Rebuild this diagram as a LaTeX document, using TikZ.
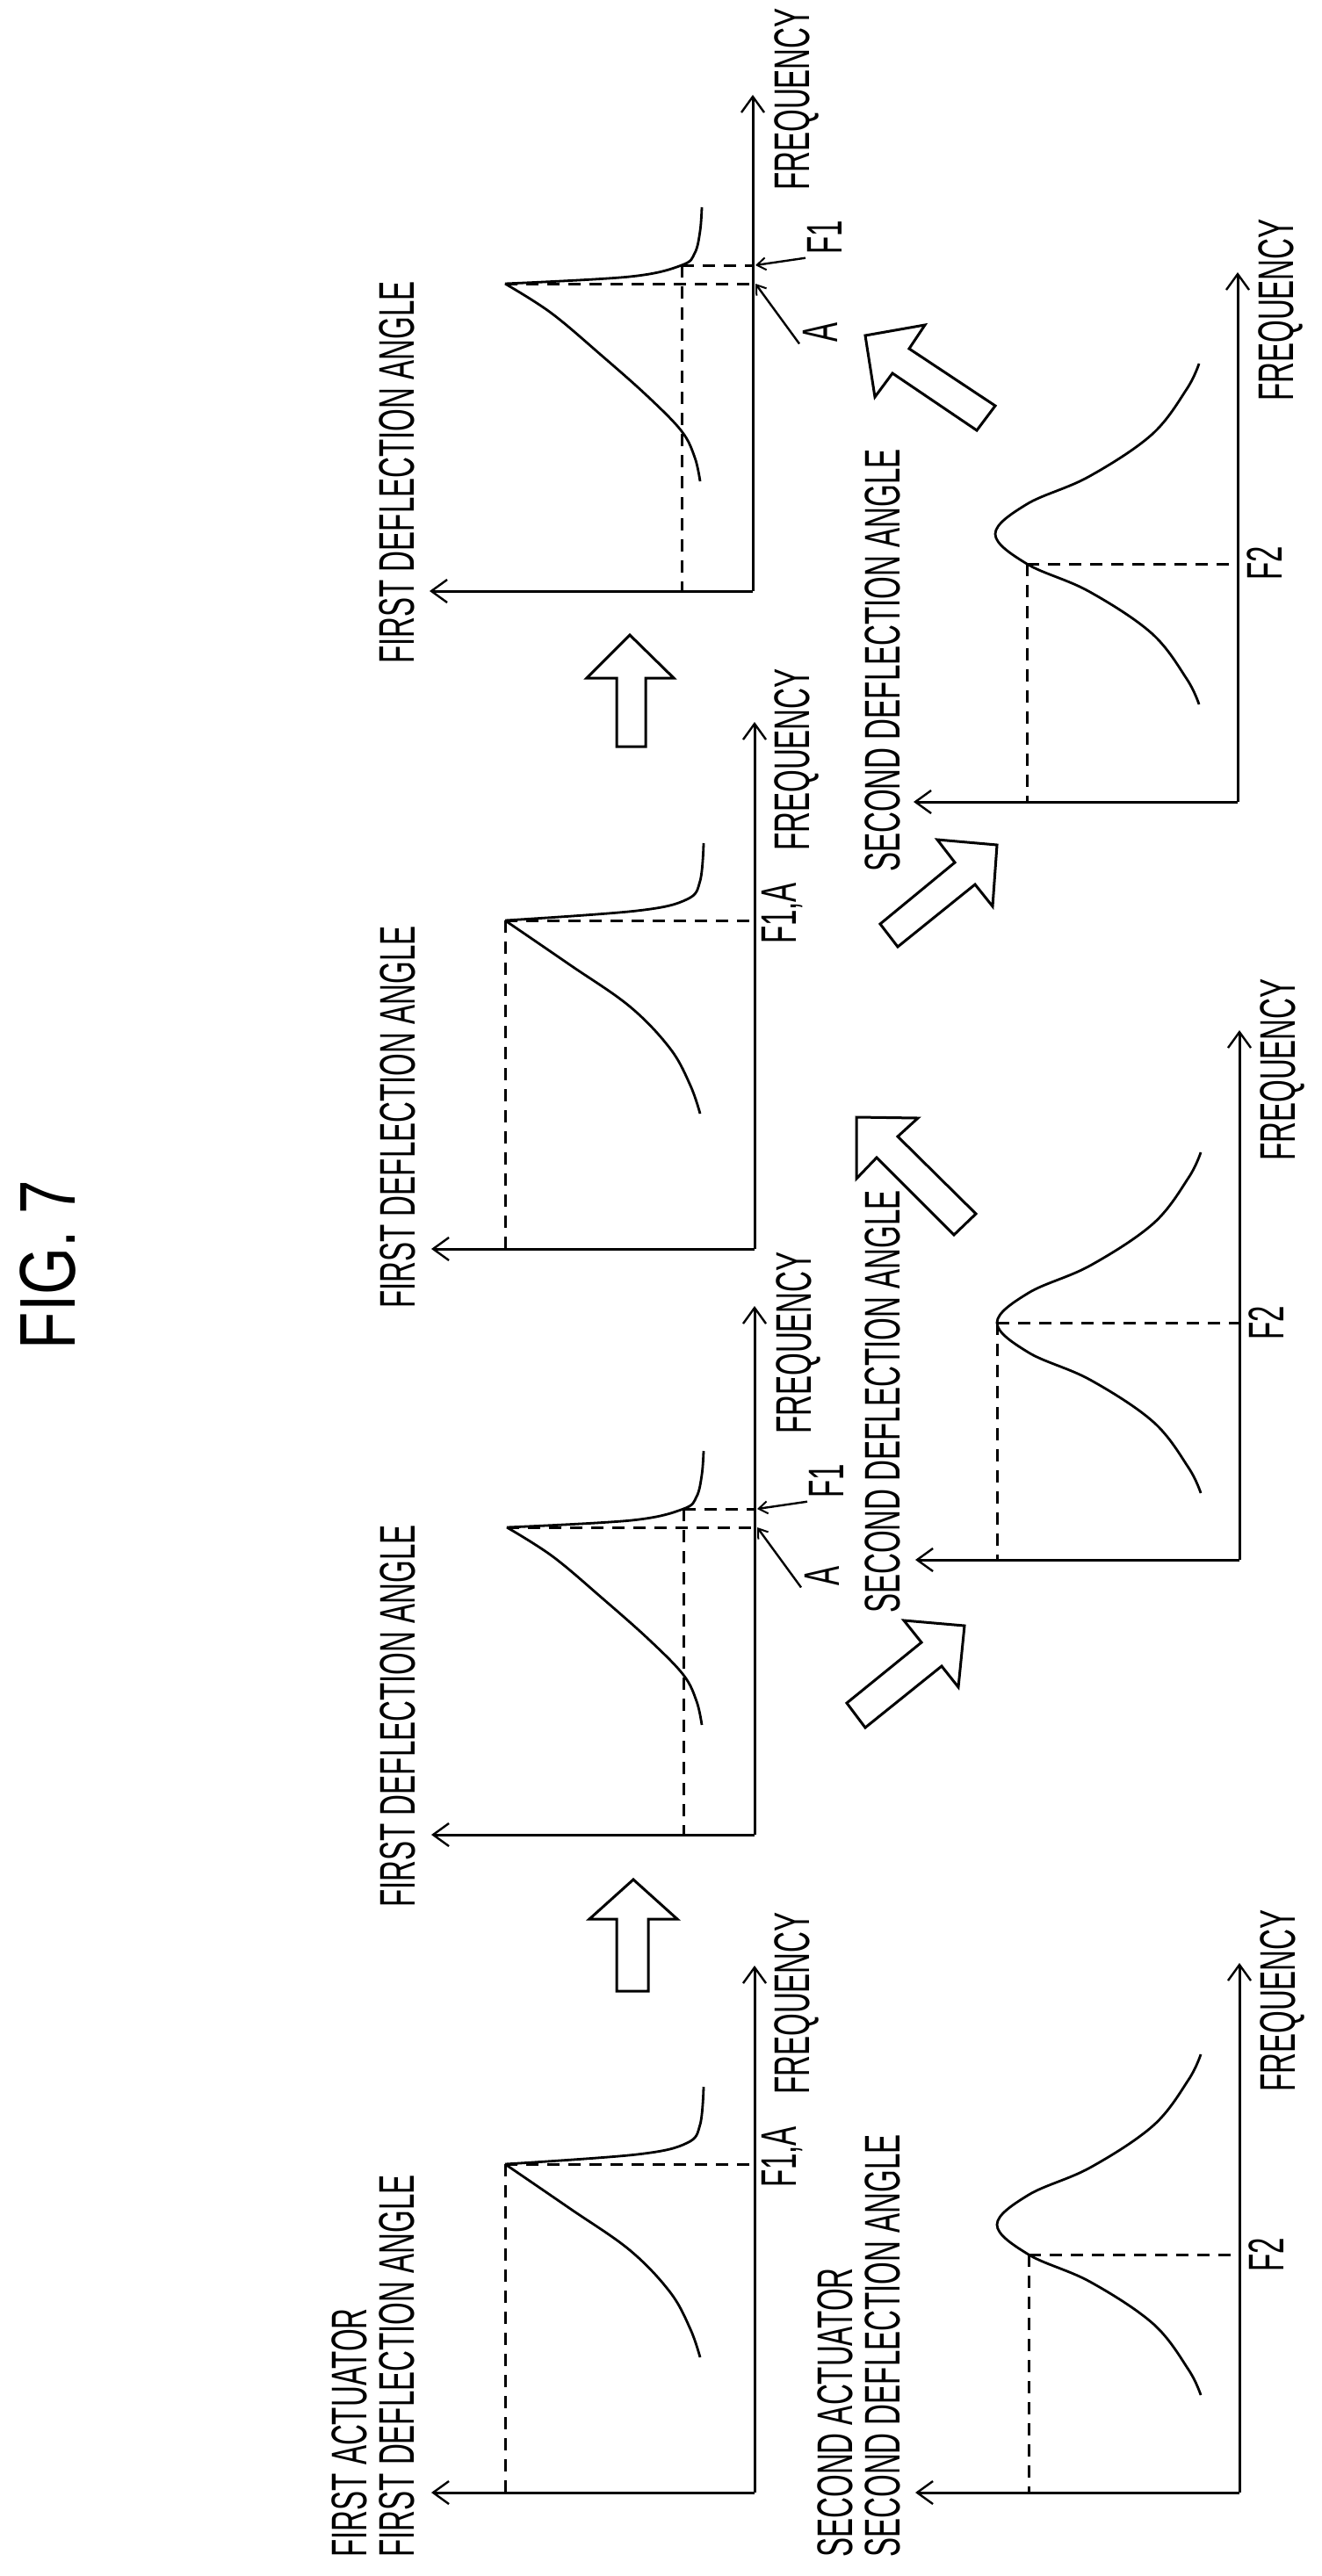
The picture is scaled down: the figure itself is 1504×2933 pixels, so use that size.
\documentclass[tikz,border=0pt]{standalone}
\usepackage{fontspec}
\usepackage{graphicx}
\setmainfont{Liberation Sans}
\usetikzlibrary{arrows.meta}
\newcommand{\lbfont}{\fontsize{28.5}{30}\selectfont}
\newcommand{\nt}[1]{\scalebox{0.58}[1]{#1}}
\tikzset{
  ax/.style={line width=1.5pt,-{Straight Barb[length=9pt,width=13pt,line width=1.2pt]}},
  dsh/.style={line width=1.5pt,dash pattern=on 7pt off 5pt},
  crv/.style={line width=1.4pt},
  blk/.style={line width=1.5pt,line join=miter},
  lbl/.style={rotate=90,inner sep=0pt,font=\lbfont},
  ptr/.style={line width=1.2pt,-{Straight Barb[length=5pt,width=7pt,line width=1pt]}}
}
% first actuator, F1 = A
\newcommand{\graphA}[1]{%
  \draw[ax] (0,0) -- (0,-600);
  \draw[ax] (0,0) -- (-368,0);
  \draw[crv] plot[smooth,tension=0.6] coordinates {(-62,-154)(-73,-186)(-96,-228)(-142,-276)(-211,-324)(-284,-374)};
  \draw[crv] plot[smooth,tension=0.6] coordinates {(-284,-374)(-134,-385)(-77,-398)(-62,-419)(-58,-462)};
  \draw[dsh] (-284,-374) -- (-284,0) (-284,-374) -- (0,-374);
  \node[lbl] (#1f) at (48,-557) {\nt{FREQUENCY}};
  \node[lbl] (#1v) at (32,-382) {\nt{F1,A}};
}
% first actuator, F1 shifted from A
\newcommand{\graphB}[2]{%
  \draw[ax] (0,0) -- (0,-#2);
  \draw[ax] (0,0) -- (-368,0);
  \draw[crv] plot[smooth,tension=0.6] coordinates {(-60,-125)(-66,-152)(-81,-182)(-120,-222)(-173,-269)(-230,-317)(-282,-350)};
  \draw[crv] plot[smooth,tension=0.6] coordinates {(-282,-350)(-140,-358)(-81,-371)(-66,-385)(-60,-410)(-58,-437)};
  \draw[dsh] (-282,-350) -- (0,-350) (-81,-371) -- (0,-371) (-81,-371) -- (-81,0);
  \node[lbl] (#1f) at (50,-560) {\nt{FREQUENCY}};
  \node[lbl] (#1v) at (82,-403) {\nt{F1}};
  \node[lbl] (#1a) at (77,-295) {\nt{A}};
  \coordinate (#1vp) at (3,-371);
  \coordinate (#1ap) at (3,-350);
  \draw[ptr] (#1v.north west) ++(-2,4) -- (#1vp);
  \draw[ptr] (#1a.north west) ++(-4,2) -- (#1ap);
}
% second actuator bell
\newcommand{\graphC}[2]{%
  \draw[ax] (0,0) -- (0,-603);
  \draw[ax] (0,0) -- (-369,0);
  \draw[crv] plot[smooth,tension=0.6] coordinates {(-44,-111)(-58,-140)(-98,-192)(-170,-240)(-240,-271)(-276,-305)(-240,-339)(-170,-370)(-98,-418)(-58,-470)(-44,-499)};
  \node[lbl] (#1f) at (49,-560) {\nt{FREQUENCY}};
  \node[lbl] (#1v) at (31,-#2) {\nt{F2}};
}
\begin{document}
\begin{tikzpicture}[x=0.5pt,y=-0.5pt]
\useasboundingbox (0,0) rectangle (1504,2933);
\fill[white] (0,0) rectangle (1504,2933);

\node[rotate=90,inner sep=0pt,font=\fontsize{45}{48}\selectfont] (title) at (55,1440) {\scalebox{0.77}[1]{FIG. 7}};

% G1
\begin{scope}[shift={(859,2838)}] \graphA{ga} \end{scope}
% G5
\begin{scope}[shift={(859,1422)}] \graphA{ge} \end{scope}
% G3
\begin{scope}[shift={(859,2089)}] \graphB{gc}{602} \end{scope}
% G6
\begin{scope}[shift={(857,673)}] \graphB{gf}{565} \end{scope}
% G2
\begin{scope}[shift={(1411,2838)}]
  \graphC{gb}{271}
  \draw[dsh] (-240,-271) -- (0,-271) (-240,-271) -- (-240,0);
\end{scope}
% G7
\begin{scope}[shift={(1409,913)}]
  \graphC{gg}{272}
  \draw[dsh] (-240,-271) -- (0,-271) (-240,-271) -- (-240,0);
\end{scope}
% G4
\begin{scope}[shift={(1411,1776)}]
  \draw[ax] (0,0) -- (0,-603);
  \draw[ax] (0,0) -- (-369,0);
  \draw[crv] plot[smooth,tension=0.6] coordinates {(-44,-76)(-58,-105)(-98,-157)(-170,-205)(-240,-236)(-276,-270)(-240,-304)(-170,-335)(-98,-383)(-58,-435)(-44,-464)};
  \draw[dsh] (-276,-270) -- (0,-270) (-276,-270) -- (-276,0);
  \node[lbl] (gdf) at (49,-558) {\nt{FREQUENCY}};
  \node[lbl] (gdv) at (31,-270) {\nt{F2}};
\end{scope}

% side labels
\node[lbl,anchor=west] (l1a) at (398,2912) {\nt{FIRST ACTUATOR}};
\node[lbl,anchor=west] (l1b) at (452,2912) {\nt{FIRST DEFLECTION ANGLE}};
\node[lbl,anchor=west] (l2a) at (951,2912) {\nt{SECOND ACTUATOR}};
\node[lbl,anchor=west] (l2b) at (1005,2912) {\nt{SECOND DEFLECTION ANGLE}};
\node[lbl,anchor=east] (l3) at (453,1736) {\nt{FIRST DEFLECTION ANGLE}};
\node[lbl,anchor=east] (l5) at (453,1054) {\nt{FIRST DEFLECTION ANGLE}};
\node[lbl,anchor=east] (l6) at (452,320) {\nt{FIRST DEFLECTION ANGLE}};
\node[lbl,anchor=east] (l4) at (1005,1355) {\nt{SECOND DEFLECTION ANGLE}};
\node[lbl,anchor=east] (l7) at (1005,511) {\nt{SECOND DEFLECTION ANGLE}};

% block arrows
\draw[blk] (721,2140) -- (771,2185) -- (738,2185) -- (738,2267) -- (702,2267) -- (702,2185) -- (671,2185) -- cycle;
\draw[blk] (717,723) -- (767,772) -- (735,772) -- (735,850) -- (702,850) -- (702,772) -- (668,772) -- cycle;
\draw[blk] (1098,1851) -- (1029,1845) -- (1049,1870) -- (964,1939) -- (985,1967) -- (1072,1897) -- (1091,1921) -- cycle;
\draw[blk] (1135,962) -- (1067,956) -- (1087,982) -- (1002,1052) -- (1022,1078) -- (1110,1007) -- (1130,1032) -- cycle;
\draw[blk] (975,1272) -- (1045,1273) -- (1022,1294) -- (1111,1382) -- (1086,1406) -- (998,1318) -- (975,1342) -- cycle;
\draw[blk] (985,382) -- (1053,370) -- (1035,397) -- (1133,462) -- (1112,490) -- (1016,425) -- (996,452) -- cycle;
\end{tikzpicture}
\end{document}
